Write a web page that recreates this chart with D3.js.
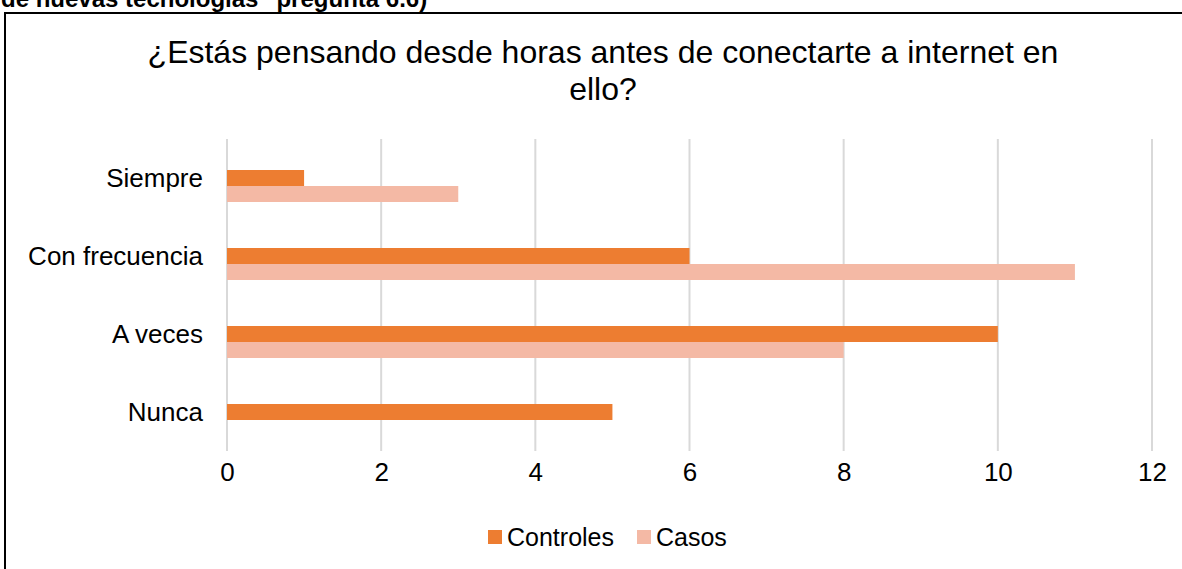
<!DOCTYPE html>
<html lang="es">
<head>
<meta charset="UTF-8">
<title>¿Estás pensando desde horas antes de conectarte a internet en ello?</title>
<script src="https://d3js.org/d3.v7.min.js"></script>
<style>
    body { margin: 0; background: #ffffff; overflow: hidden; }
    svg { display: block; font-family: "Liberation Sans", Arial, sans-serif; }
    .grid line { stroke: #d9d9d9; stroke-width: 2; }
    .axis .domain, .axis line { display: none; }
    .axis text { fill: #000; font-size: 26px; font-family: "Liberation Sans", Arial, sans-serif; }
</style>
</head>
<body>
<svg id="chart" width="1182" height="569"></svg>
<script>
    // --- DATOS ---
    const CATEGORIAS = ["Siempre", "Con frecuencia", "A veces", "Nunca"];
    const SERIES = ["Controles", "Casos"];
    const CONTROLES = [1, 6, 10, 5];
    const CASOS = [3, 11, 8, 0];
    const X_TICKS = [0, 2, 4, 6, 8, 10, 12];
    const TITULO = ["¿Estás pensando desde horas antes de conectarte a internet en", "ello?"];
    const ENCABEZADO = "de nuevas tecnologías\" pregunta 6.6)";

    const COLORES = { Controles: "#ed7d31", Casos: "#f4b9a5" };

    const svg = d3.select("#chart");

    // texto cortado del documento, encima del recuadro
    svg.append("text")
        .attr("x", 1).attr("y", 7)
        .attr("font-size", 24).attr("font-weight", "bold")
        .text(ENCABEZADO);

    // recuadro del gráfico (se sale por la derecha y por abajo)
    svg.append("rect")
        .attr("x", 5).attr("y", 13)
        .attr("width", 1200).attr("height", 600)
        .attr("fill", "#fff").attr("stroke", "#000").attr("stroke-width", 2);

    // título
    svg.append("text")
        .attr("text-anchor", "middle")
        .attr("font-size", 32)
        .selectAll("tspan")
        .data(TITULO)
        .join("tspan")
        .attr("x", 603)
        .attr("y", (d, i) => 63 + i * 37)
        .text(d => d);

    // escalas
    const x = d3.scaleLinear().domain([0, 12]).range([227, 1152]);
    const y = d3.scaleBand().domain(CATEGORIAS).range([139, 451]);
    // hay un hueco vacío arriba en cada grupo, como una tercera serie sin datos
    const ySub = d3.scaleBand().domain(["", ...SERIES]).range([15, y.bandwidth() - 15]);

    // rejilla vertical
    svg.append("g").attr("class", "grid")
        .selectAll("line")
        .data(X_TICKS)
        .join("line")
        .attr("x1", d => x(d)).attr("x2", d => x(d))
        .attr("y1", 139).attr("y2", 451);

    // barras
    const filas = CATEGORIAS.map((c, i) => ({ cat: c, Controles: CONTROLES[i], Casos: CASOS[i] }));
    svg.append("g")
        .selectAll("g")
        .data(filas)
        .join("g")
        .attr("transform", d => `translate(0,${y(d.cat)})`)
        .selectAll("rect")
        .data(d => SERIES.map(s => ({ serie: s, valor: d[s] })))
        .join("rect")
        .attr("x", x(0))
        .attr("y", d => ySub(d.serie))
        .attr("width", d => x(d.valor) - x(0))
        .attr("height", ySub.bandwidth())
        .attr("fill", d => COLORES[d.serie]);

    // ejes
    svg.append("g").attr("class", "axis")
        .attr("transform", "translate(0,463)")
        .call(d3.axisBottom(x).tickValues(X_TICKS).tickSize(0).tickPadding(0))
        .selectAll("text").attr("dy", "0.71em");

    svg.append("g").attr("class", "axis")
        .attr("transform", "translate(203,0)")
        .call(d3.axisLeft(y).tickSize(0).tickPadding(0))
        .selectAll("text").attr("dy", "0.35em");

    // leyenda
    const leyenda = svg.append("g").attr("font-size", 25);
    const posLeyenda = [488, 637];
    SERIES.forEach((s, i) => {
        leyenda.append("rect")
            .attr("x", posLeyenda[i]).attr("y", 530)
            .attr("width", 14).attr("height", 14)
            .attr("fill", COLORES[s]);
        leyenda.append("text")
            .attr("x", posLeyenda[i] + 19).attr("y", 546)
            .text(s);
    });
</script>
</body>
</html>
